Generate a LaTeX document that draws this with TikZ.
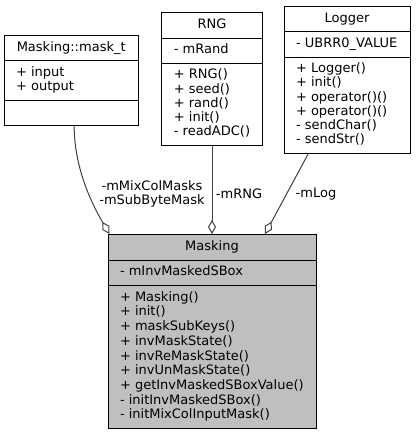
\documentclass[tikz,border=0pt]{standalone}
\usepackage{fontspec}
\setmainfont{DejaVu Sans}
\usetikzlibrary{positioning, arrows.meta, shapes.multipart}

\definecolor{classfill}{RGB}{191,191,191}
\definecolor{edgegray}{RGB}{64,64,64}

\begin{document}
\begin{tikzpicture}[
        x=1pt, y=-1pt,
        umlclass/.style={rectangle split, rectangle split parts=3,
            rectangle split part align={center,left,left},
            rectangle split empty part height=10pt, rectangle split empty part depth=4.3pt,
            draw=black, line width=1pt, fill=white, inner xsep=12pt, inner ysep=5pt,
            align=left, anchor=north, font=\fontsize{13}{14.3}\selectfont\strut},
        aggregation/.style={draw=edgegray, line width=1pt, arrows={Diamond[open, length=14pt, width=8pt]-}},
        rolelabel/.style={font=\fontsize{13}{14}\selectfont, align=center, inner sep=0pt},
    ]
    \useasboundingbox (0,0) rectangle (416,433);

        % Draw the member classes
        \node[umlclass, minimum width=134.3pt] (maskt) at (71.2,35)
            {Masking::mask\_t \nodepart{second} + input\\+ output \nodepart{third}};
        \node[umlclass, minimum width=99.4pt] (rng) at (212,12.3)
            {RNG \nodepart{second} - mRand \nodepart{third} + RNG()\\+ seed()\\+ rand()\\+ init()\\- readADC()};
        \node[umlclass, minimum width=126pt] (logger) at (347,6)
            {Logger \nodepart{second} - UBRR0\_VALUE \nodepart{third} + Logger()\\+ init()\\+ operator()()\\+ operator()()\\- sendChar()\\- sendStr()};

        % Draw the main class
        \node[umlclass, minimum width=208pt, fill=classfill, font=\fontsize{13}{14.7}\selectfont\strut] (masking) at (212,234)
            {Masking \nodepart{second} - mInvMaskedSBox \nodepart{third} + Masking()\\+ init()\\+ maskSubKeys()\\+ invMaskState()\\+ invReMaskState()\\+ invUnMaskState()\\+ getInvMaskedSBoxValue()\\- initInvMaskedSBox()\\- initMixColInputMask()};

        % Connect the main class with its members
        \draw[aggregation] ([xshift=2pt]masking.north west) .. controls +(-20,-34) and +(0,39) .. ([xshift=3pt]maskt.south);
        \draw[aggregation] (masking.north) -- (rng.south);
        \draw[aggregation] ([xshift=53pt]masking.north) -- ([xshift=-39pt]logger.south);

        % Member names
        \node[rolelabel] (maskroles) at (152,194) {-mMixColMasks\\-mSubByteMask};
        \node[rolelabel] (rngrole) at (239,194) {-mRNG};
        \node[rolelabel] (logrole) at (316,194) {-mLog};
    \end{tikzpicture}
\end{document}
